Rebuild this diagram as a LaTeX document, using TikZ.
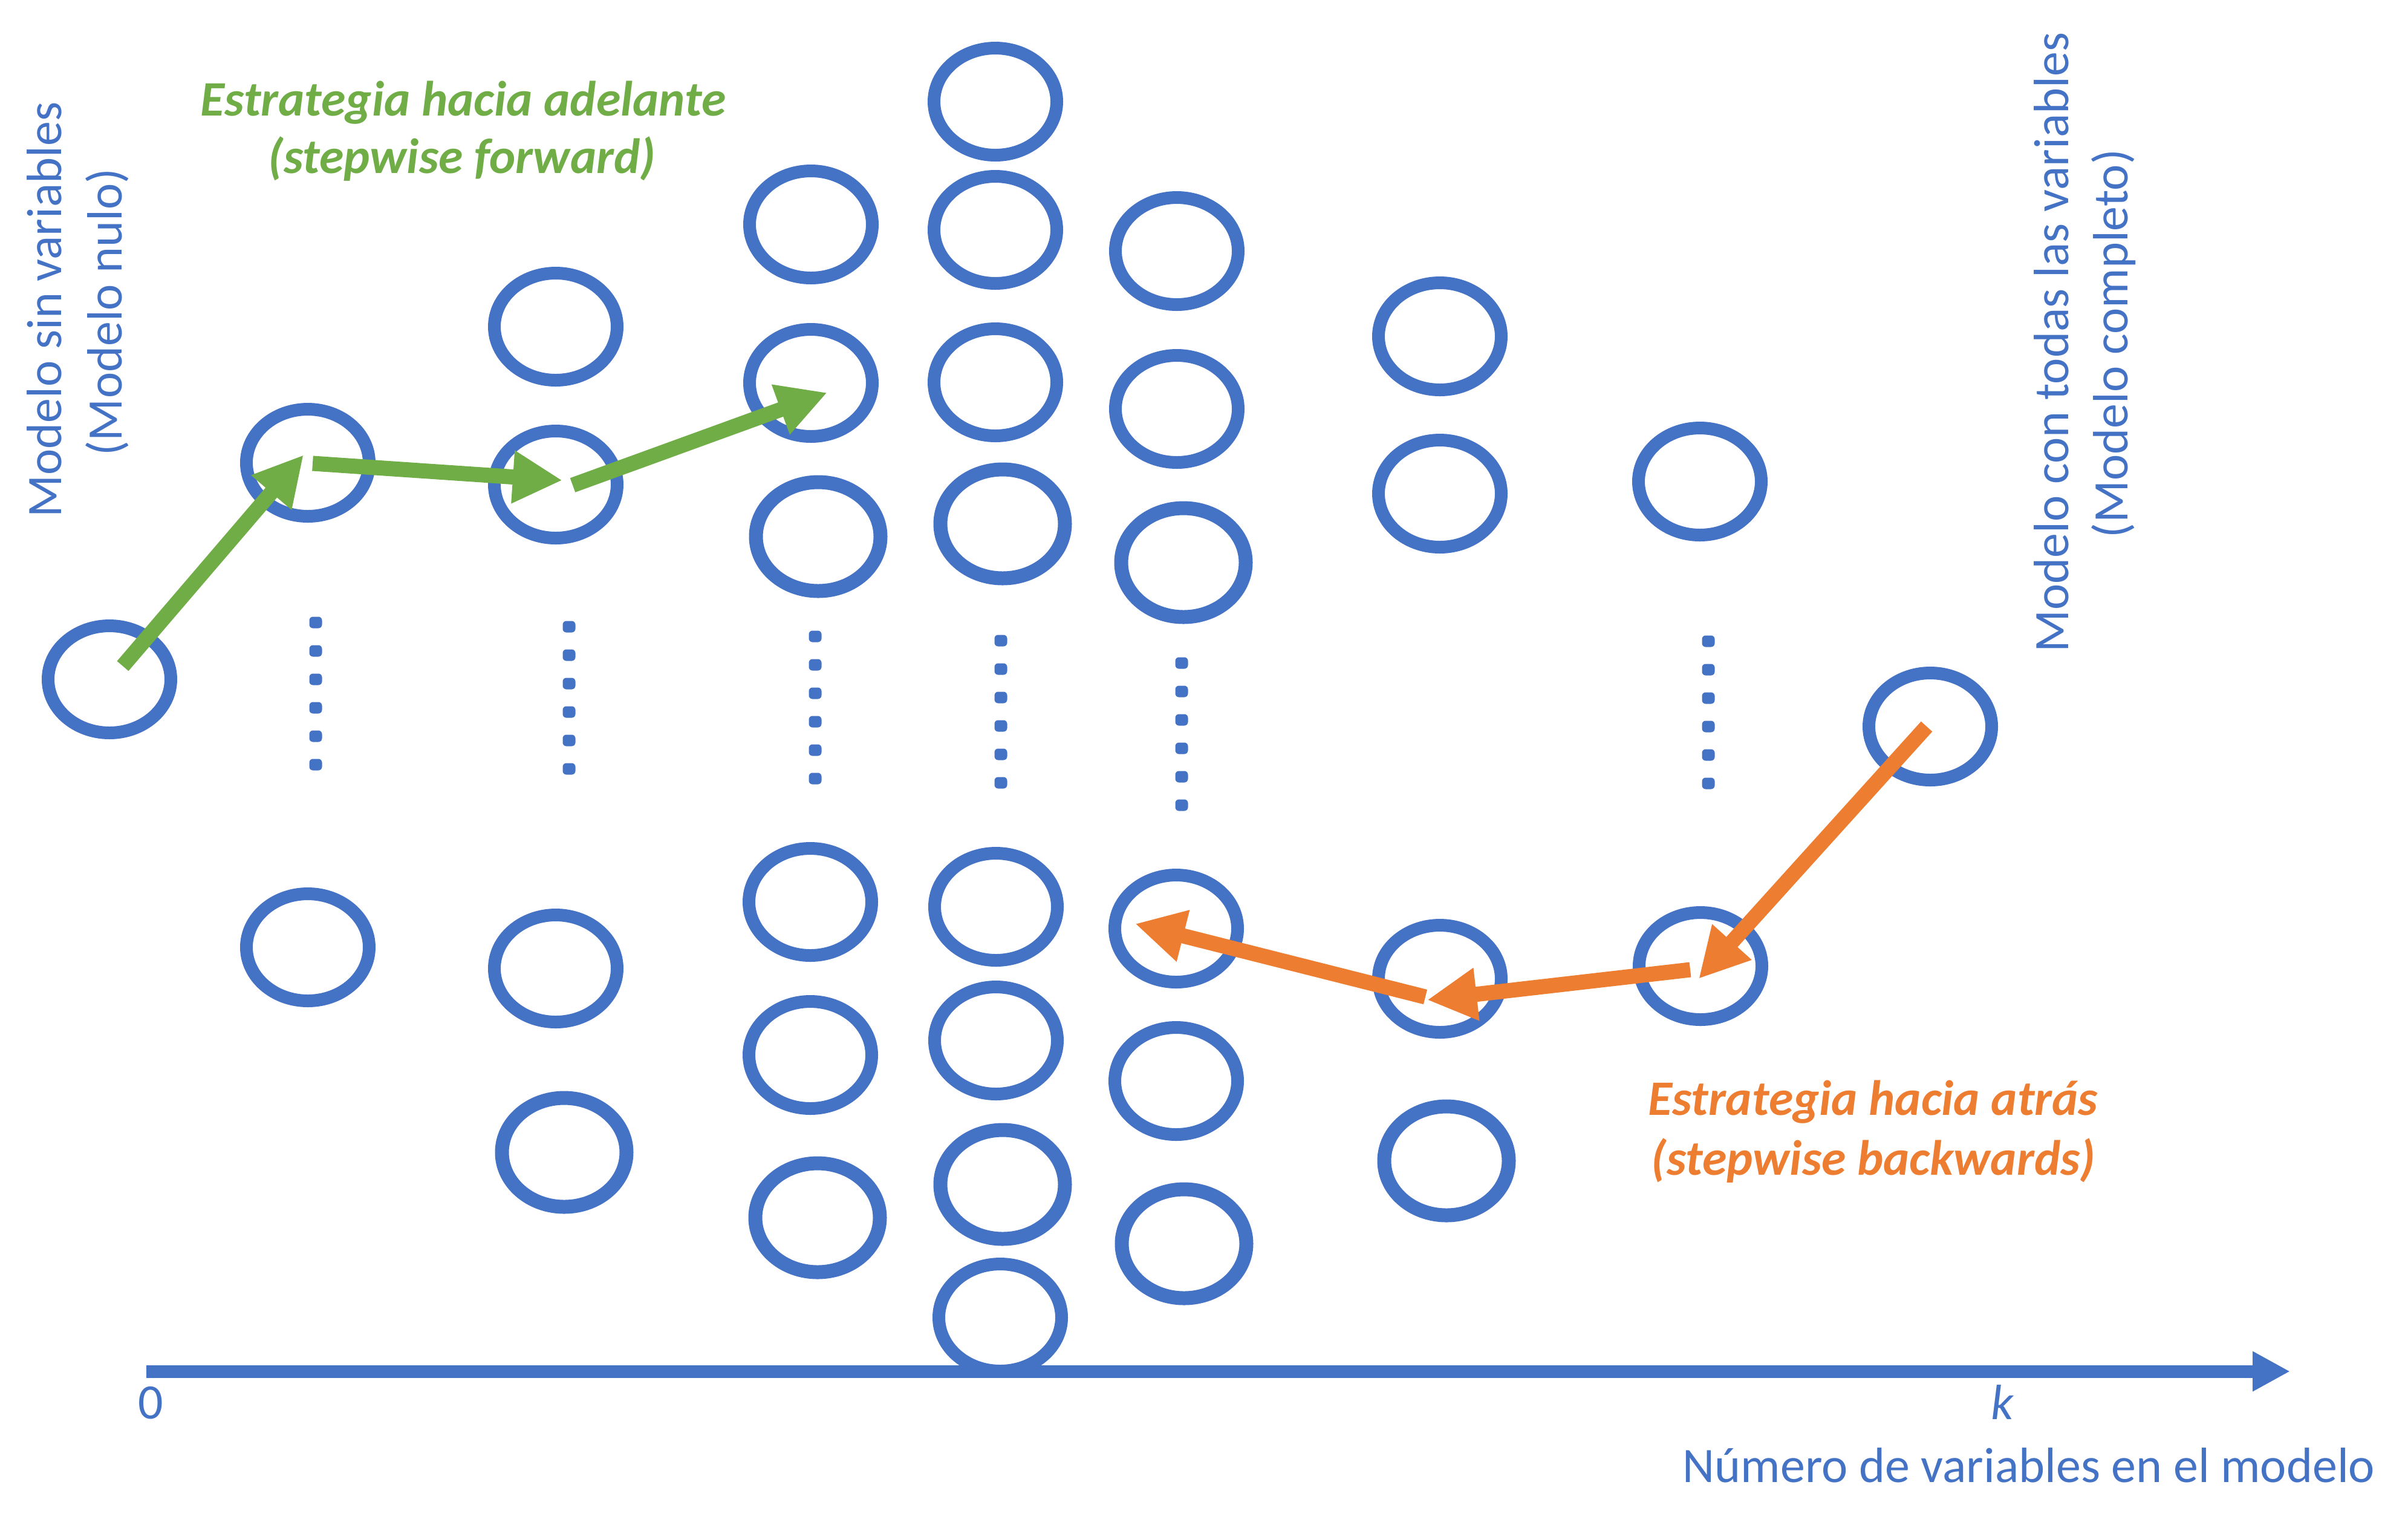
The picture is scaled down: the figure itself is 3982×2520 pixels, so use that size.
\documentclass[tikz,border=0pt]{standalone}
\usepackage{fontspec}
\setmainfont{Carlito}
\usetikzlibrary{shapes.geometric,arrows.meta,calc}
\definecolor{oblue}{HTML}{4472C4}
\definecolor{ogreen}{HTML}{70AD47}
\definecolor{oorange}{HTML}{ED7D31}
\newcommand{\lblfont}{\fontsize{20.5}{24}\selectfont}
\begin{document}
\begin{tikzpicture}[x=0.25pt,y=-0.25pt,
  model/.style={ellipse, draw=oblue, line width=5.25pt, minimum width=50.75pt, minimum height=44.25pt, inner sep=0pt, outer sep=0pt},
  modelb/.style={model, line width=5.75pt, minimum width=51.5pt, minimum height=45pt},
  fwd/.style={draw=ogreen, line width=6.25pt, -{Triangle[length=20.5pt,width=20.5pt]}},
  bwd/.style={draw=oorange, line width=6.25pt, -{Triangle[length=20.5pt,width=20.5pt]}},
  axisline/.style={draw=oblue, line width=5.25pt, -{Triangle[length=15.5pt,width=15.5pt]}},
  lbl/.style={text=oblue, font=\lblfont, inner sep=0pt, anchor=base},
  glbl/.style={text=ogreen, font=\lblfont\bfseries\itshape, inner sep=0pt, anchor=base},
  olbl/.style={text=oorange, font=\lblfont\bfseries\itshape, inner sep=0pt, anchor=base},
  dotmark/.style={fill=oblue, rounded corners=1.5pt}
]
\useasboundingbox (0,0) rectangle (3982,2520);

% axis
\coordinate (ax0) at (242,2267);
\coordinate (ax1) at (3787,2267);
\draw[axisline] (ax0) -- (ax1);

% models
\node[model]  (c0)  at (181,1123) {};
\node[model]  (c1a) at (509,765) {};
\node[model]  (c1b) at (509,1566) {};
\node[model]  (c2a) at (919,540) {};
\node[model]  (c2b) at (919,801) {};
\node[model]  (c2c) at (919,1601) {};
\node[modelb] (c2d) at (933,1905) {};
\node[model]  (c3a) at (1341,371) {};
\node[model]  (c3b) at (1341,633) {};
\node[modelb] (c3c) at (1353,887) {};
\node[model]  (c3d) at (1340,1491) {};
\node[model]  (c3e) at (1340,1744) {};
\node[modelb] (c3f) at (1352,2013) {};
\node[model]  (c4a) at (1646,168) {};
\node[model]  (c4b) at (1646,380) {};
\node[model]  (c4c) at (1646,632) {};
\node[modelb] (c4d) at (1658,866) {};
\node[model]  (c4e) at (1647,1499) {};
\node[model]  (c4f) at (1647,1720) {};
\node[modelb] (c4g) at (1658,1958) {};
\node[model]  (c4h) at (1654,2178) {};
\node[model]  (c5a) at (1946,415) {};
\node[model]  (c5b) at (1946,676) {};
\node[modelb] (c5c) at (1957,930) {};
\node[model]  (c5d) at (1945,1535) {};
\node[model]  (c5e) at (1945,1787) {};
\node[modelb] (c5f) at (1958,2056) {};
\node[model]  (c6a) at (2381,556) {};
\node[model]  (c6b) at (2381,816) {};
\node[model]  (c6c) at (2381,1618) {};
\node[modelb] (c6d) at (2392,1919) {};
\node[model]  (c7a) at (2811,796) {};
\node[model]  (c7b) at (2812,1597) {};
\node[model]  (c8)  at (3192,1201) {};

% vertical dots
\foreach \x/\ya in {522/1029, 941/1036, 1348/1052, 1655/1059, 1954/1096, 2825/1060}
  \foreach \k in {0,...,5}
    \fill[dotmark] (\x-10.5, \ya+47*\k-9.5) rectangle (\x+10.5, \ya+47*\k+9.5);

% forward path
\draw[fwd] ($(c0.center)+(22,-22)$) -- ($(c1a.center)+(-7,-13)$);
\draw[fwd] ($(c1a.center)+(8,1)$) -- ($(c2b.center)+(11,-7)$);
\draw[fwd] ($(c2b.center)+(28,1)$) -- ($(c3b.center)+(27,16)$);

% backward path
\draw[bwd] ($(c8.center)+(-6,0)$) -- ($(c7b.center)+(-3,21)$);
\draw[bwd] ($(c7b.center)+(-17,6)$) -- ($(c6c.center)+(-21,35)$);
\draw[bwd] ($(c6c.center)+(-24,30)$) -- ($(c5d.center)+(-68,-8)$);

% labels
\node[glbl] (fw1) at (766,191) {Estrategia hacia adelante};
\node[glbl] (fw2) at (764,286) {(stepwise forward)};
\node[olbl] (bw1) at (3097,1843) {Estrategia hacia atrás};
\node[olbl] (bw2) at (3098,1942) {(stepwise backwards)};
\node[lbl, rotate=90] (nl1) at (101,512) {Modelo sin variables};
\node[lbl, rotate=90] (nl2) at (201,516) {(Modelo nulo)};
\node[lbl, rotate=90] (fl1) at (3420,566) {Modelo con todas las variables};
\node[lbl, rotate=90] (fl2) at (3518,568) {(Modelo completo)};
\node[lbl] (zero) at (249,2345) {0};
\node[lbl, font=\lblfont\itshape] (kk) at (3311,2346) {k};
\node[lbl] (xlab) at (3355,2450) {Número de variables en el modelo};
\end{tikzpicture}
\end{document}
